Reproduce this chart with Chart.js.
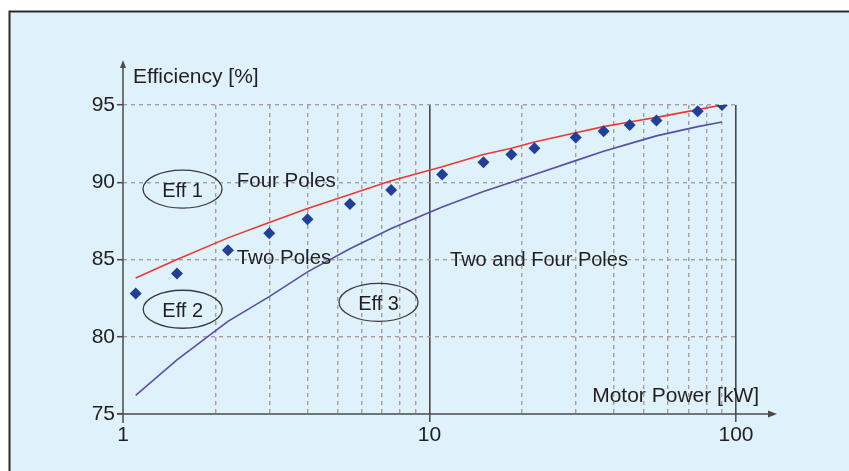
<!DOCTYPE html>
<html>
<head>
<meta charset="utf-8">
<script src="https://cdn.jsdelivr.net/npm/chart.js@4.4.1/dist/chart.umd.min.js"></script>
<style>
  html, body { margin: 0; padding: 0; background: #fff; }
  canvas { display: block; }
</style>
</head>
<body>
<canvas id="effChart" width="849" height="471"></canvas>
<script>
// motor ratings [kW]
const powers = [1.1, 1.5, 2.2, 3, 4, 5.5, 7.5, 11, 15, 18.5, 22, 30, 37, 45, 55, 75, 90]
// Eff 1 limit, four poles (red line)
const eff1FourPoles = [83.8, 85.0, 86.4, 87.4, 88.3, 89.2, 90.1, 91.0, 91.8, 92.2, 92.6, 93.2, 93.6, 93.9, 94.2, 94.7, 95.0]
// Eff 1 limit, two poles (diamonds)
const eff1TwoPoles = [82.8, 84.1, 85.6, 86.7, 87.6, 88.6, 89.5, 90.5, 91.3, 91.8, 92.2, 92.9, 93.3, 93.7, 94.0, 94.6, 95.0]
// Eff 2 / Eff 3 boundary, two and four poles (blue line)
const eff2Limit = [76.2, 78.5, 81.0, 82.6, 84.2, 85.7, 87.0, 88.4, 89.4, 90.0, 90.5, 91.4, 92.0, 92.5, 93.0, 93.6, 93.9]

const xTicks = [1, 2, 3, 4, 5, 6, 7, 8, 9, 10, 20, 30, 40, 50, 60, 70, 80, 90, 100]
const xLabels = [1, 10, 100]
const yTicks = [75, 80, 85, 90, 95]

const textColor = "#231f20"
const axisColor = "#4a4a4a"
const gridColor = "#a49f9b"
const fontFamily = "'Liberation Sans', Arial, Helvetica, sans-serif"

function pairs(xs, ys) {
  return xs.map((x, i) => ({ x: x, y: ys[i] }))
}

// free text placed in data space
const notes = [
  { text: "Efficiency [%]", x: 1.078, y: 96.42, align: "left", size: 21 },
  { text: "Motor Power [kW]", x: 118.9, y: 75.78, align: "right", size: 21 },
  { text: "Four Poles", x: 2.35, y: 89.71, align: "left", size: 20.5 },
  { text: "Two Poles", x: 2.35, y: 84.71, align: "left", size: 20.5 },
  { text: "Two and Four Poles", x: 11.67, y: 84.58, align: "left", size: 20 },
]
const ovals = [
  { text: "Eff 1", x: 1.564, y: 89.56 },
  { text: "Eff 2", x: 1.566, y: 81.78 },
  { text: "Eff 3", x: 6.82, y: 82.23 },
]

const decor = {
  id: "decor",
  beforeDraw(chart) {
    const { ctx, width, height } = chart
    ctx.save()
    ctx.fillStyle = "#ffffff"
    ctx.fillRect(0, 0, width, height)
    ctx.fillStyle = "#dff1fa"
    ctx.fillRect(9, 11, width - 9, height - 11)
    ctx.strokeStyle = "#2a2a2a"
    ctx.lineWidth = 2
    ctx.beginPath()
    ctx.moveTo(9.5, height)
    ctx.lineTo(9.5, 11.5)
    ctx.lineTo(width, 11.5)
    ctx.stroke()
    ctx.restore()
  },
  afterDraw(chart) {
    const { ctx } = chart
    const xs = chart.scales.x
    const ys = chart.scales.y
    const left = xs.left
    const bottom = ys.bottom
    ctx.save()
    ctx.strokeStyle = axisColor
    ctx.fillStyle = axisColor
    ctx.lineWidth = 1.5
    // y axis with arrow
    ctx.beginPath()
    ctx.moveTo(left, bottom + 9)
    ctx.lineTo(left, 66)
    ctx.stroke()
    ctx.beginPath()
    ctx.moveTo(left, 60)
    ctx.lineTo(left - 3, 68)
    ctx.lineTo(left + 3, 68)
    ctx.closePath()
    ctx.fill()
    // x axis with arrow
    ctx.beginPath()
    ctx.moveTo(left - 6, bottom)
    ctx.lineTo(770, bottom)
    ctx.stroke()
    ctx.beginPath()
    ctx.moveTo(777, bottom)
    ctx.lineTo(768, bottom - 3.5)
    ctx.lineTo(768, bottom + 3.5)
    ctx.closePath()
    ctx.fill()

    ctx.fillStyle = textColor
    ctx.textBaseline = "alphabetic"
    notes.forEach((n) => {
      ctx.font = n.size + "px " + fontFamily
      ctx.textAlign = n.align
      ctx.fillText(n.text, xs.getPixelForValue(n.x), ys.getPixelForValue(n.y))
    })
    ctx.font = "20px " + fontFamily
    ctx.strokeStyle = "#3a3a3a"
    ctx.lineWidth = 1.3
    ovals.forEach((o) => {
      const cx = xs.getPixelForValue(o.x)
      const cy = ys.getPixelForValue(o.y)
      ctx.beginPath()
      ctx.ellipse(cx, cy, 39.5, 19, 0, 0, Math.PI * 2)
      ctx.stroke()
      ctx.textAlign = "center"
      ctx.fillText(o.text, cx, cy + 7.5)
    })
    ctx.restore()
  },
}

const ctx = document.getElementById("effChart").getContext("2d")
const effChart = new Chart(ctx, {
  type: "line",
  data: {
    datasets: [
      {
        type: "scatter",
        label: "Eff 1 two poles",
        data: pairs(powers, eff1TwoPoles),
        pointStyle: "rectRot",
        pointRadius: 6,
        backgroundColor: "#223f98",
        borderWidth: 0,
        showLine: false,
      },
      {
        label: "Eff 1 four poles",
        data: pairs(powers, eff1FourPoles),
        borderColor: "#ec3932",
        borderWidth: 1.6,
        pointRadius: 0,
        tension: 0,
        fill: false,
      },
      {
        label: "Eff 2 limit",
        data: pairs(powers, eff2Limit),
        borderColor: "#5a4ea6",
        borderWidth: 1.6,
        pointRadius: 0,
        tension: 0,
        fill: false,
      },
    ],
  },
  options: {
    responsive: false,
    devicePixelRatio: 1,
    animation: false,
    layout: {
      padding: { left: 0, right: 113, top: 105, bottom: 0 },
    },
    plugins: {
      legend: { display: false },
      tooltip: { enabled: false },
    },
    scales: {
      x: {
        type: "logarithmic",
        min: 1,
        max: 100,
        afterBuildTicks: (scale) => {
          scale.ticks = xTicks.map((v) => ({ value: v }))
        },
        afterFit: (scale) => {
          scale.height = 57
        },
        ticks: {
          autoSkip: false,
          maxRotation: 0,
          padding: 1,
          color: textColor,
          font: { family: fontFamily, size: 21 },
          callback: (v) => (xLabels.includes(v) ? String(v) : ""),
        },
        grid: {
          color: (c) => {
            const v = c.tick && c.tick.value
            if (v === 1) return "rgba(0,0,0,0)"
            return v === 10 || v === 100 ? axisColor : gridColor
          },
          lineWidth: (c) => {
            const v = c.tick && c.tick.value
            return v === 10 || v === 100 ? 1.6 : 1.4
          },
          drawTicks: true,
          tickLength: 8,
          tickWidth: 1.5,
          tickColor: (c) => {
            const v = c.tick && c.tick.value
            return v === 10 || v === 100 ? axisColor : "rgba(0,0,0,0)"
          },
        },
        border: {
          display: false,
          dash: (c) => {
            const v = c.tick && c.tick.value
            return v === 10 || v === 100 ? [] : [4, 4]
          },
        },
      },
      y: {
        min: 75,
        max: 95,
        afterBuildTicks: (scale) => {
          scale.ticks = yTicks.map((v) => ({ value: v }))
        },
        afterFit: (scale) => {
          scale.width = 123
        },
        ticks: {
          padding: 2,
          color: textColor,
          font: { family: fontFamily, size: 21 },
        },
        grid: {
          color: (c) => (c.tick && c.tick.value === 75 ? "rgba(0,0,0,0)" : gridColor),
          lineWidth: 1.4,
          drawTicks: true,
          tickLength: 6,
          tickWidth: 1.5,
          tickColor: axisColor,
        },
        border: {
          display: false,
          dash: [4, 4],
        },
      },
    },
  },
  plugins: [decor],
})
</script>
</body>
</html>
